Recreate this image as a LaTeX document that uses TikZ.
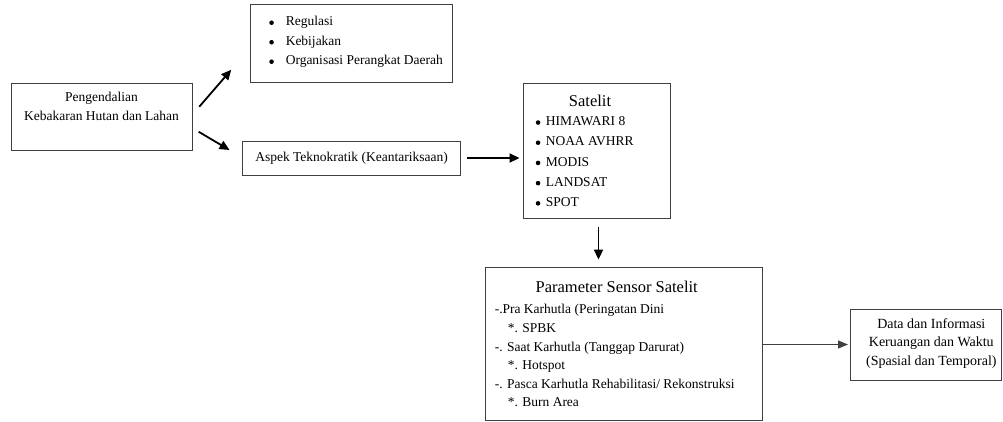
\documentclass[tikz,border=0pt]{standalone}
\usepackage{fontspec}
\setmainfont{Liberation Serif}
\usepackage{xcolor}
\usetikzlibrary{positioning, arrows.meta}
\definecolor{edge}{HTML}{404040}
\tikzset{
  box/.style={draw=edge, line width=0.9pt, inner sep=0pt, fill=white},
  txt/.style={font=\fontsize{13.5}{19.5}\selectfont, inner sep=0pt, align=left},
  ttl/.style={font=\fontsize{16.5}{20}\selectfont, inner sep=0pt},
  ar/.style={-{Triangle[length=10pt,width=9pt]}, line width=1.8pt},
  arthin/.style={-{Triangle[length=10pt,width=8pt]}, line width=1pt, edge},
}
\newcommand{\blt}{\tikz[baseline=-3.2pt]\fill (0,0) circle (2.3pt);}
\newcommand{\itm}[2]{\makebox[#1][l]{\blt}#2}

\begin{document}
\begin{tikzpicture}[x=1pt, y=-1pt]
  \useasboundingbox (0,0) rectangle (1003,421);

  % --- boxes ---
  \node[box, minimum width=181pt, minimum height=67.5pt] (pkh) at (101.5,116.75) {};
  \node[box, minimum width=202pt, minimum height=78pt] (reg) at (351,43) {};
  \node[box, txt, minimum width=218.4pt, minimum height=34pt] (aspek) at (351.5,158)
       {Aspek Teknokratik (Keantariksaan)};
  \node[box, minimum width=147pt, minimum height=135pt] (sat) at (596.5,150.5) {};
  \node[box, minimum width=277pt, minimum height=153pt] (param) at (623.5,343.5) {};
  \node[box, minimum width=151.7pt, minimum height=71pt] (data) at (925.8,344.5) {};

  % --- texts ---
  \node[txt, align=center, below=9.8pt of pkh.north, font=\fontsize{13.5}{19}\selectfont]
       (pkhtxt) {Pengendalian\\Kebakaran Hutan dan Lahan};
  \node[txt, below right=12.8pt and 19.5pt of reg.north west] (regtxt)
       {\itm{16.5pt}{Regulasi}\\ \itm{16.5pt}{Kebijakan}\\ \itm{16.5pt}{Organisasi Perangkat Daerah}};
  \node[ttl, below=12.5pt of sat.north, xshift=-6.5pt] (sattl) {Satelit};
  \node[txt, below right=34pt and 13pt of sat.north west, font=\fontsize{13.5}{20.2}\selectfont]
       (sattxt) {\itm{10pt}{HIMAWARI 8}\\ \itm{10pt}{NOAA AVHRR}\\ \itm{10pt}{MODIS}\\
                 \itm{10pt}{LANDSAT}\\ \itm{10pt}{SPOT}};
  \node[ttl, below=13.8pt of param.north, xshift=-6.8pt] (paramtl) {Parameter Sensor Satelit};
  \node[txt, below right=37.7pt and 10pt of param.north west, font=\fontsize{13.5}{18.6}\selectfont]
       (paramtxt) {-.Pra Karhutla (Peringatan Dini\\
                   \hspace*{13pt}*. SPBK\\
                   -. Saat Karhutla (Tanggap Darurat)\\
                   \hspace*{13pt}*. Hotspot\\
                   -. Pasca Karhutla Rehabilitasi/ Rekonstruksi\\
                   \hspace*{13pt}*. Burn Area};
  \node[txt, align=center, font=\fontsize{14}{18.5}\selectfont, xshift=5.5pt, yshift=1pt]
       (datatxt) at (data.center) {Data dan Informasi\\Keruangan dan Waktu\\(Spasial dan Temporal)};

  % --- arrow ends ---
  \coordinate (upS) at ([xshift=6.8pt, yshift=10pt]pkh.east);
  \coordinate (upE) at ([xshift=-18.3pt, yshift=12.7pt]reg.south west);
  \coordinate (loS) at ([xshift=6.2pt, yshift=-15pt]pkh.east);
  \coordinate (loE) at ([xshift=-12.3pt, yshift=8pt]aspek.west);

  % --- arrows ---
  \draw[ar] (upS) -- (upE);
  \draw[ar] (loS) -- (loE);
  \draw[ar, shorten <=6pt, shorten >=3pt] (aspek.east) -- (aspek.east -| sat.west);
  \draw[ar, shorten <=8.5pt, shorten >=7pt] ([xshift=2pt]sat.south) -- ([xshift=2pt]sat.south |- param.north);
  \draw[arthin, shorten >=1.5pt] (param.east |- data.west) -- (data.west);

\end{tikzpicture}
\end{document}
